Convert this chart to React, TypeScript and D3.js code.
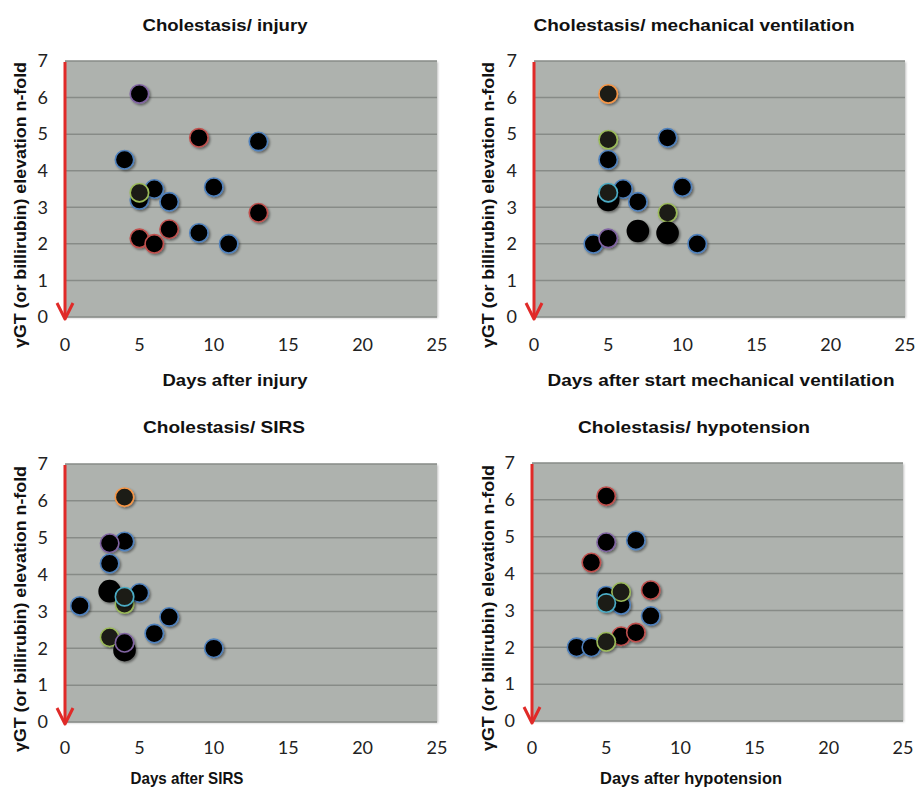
import React from 'react';
import * as d3 from 'd3';

type Pt = { day: number; value: number; ring: string };

// axis ticks
const xTicks = [0, 5, 10, 15, 20, 25];
const yTicks = [0, 1, 2, 3, 4, 5, 6, 7];

// points per panel, in drawing order (lower ones first)
const injuryPoints: Pt[] = [
  { day: 5, value: 6.1, ring: 'purple' },
  { day: 9, value: 4.9, ring: 'red' },
  { day: 13, value: 4.8, ring: 'blue' },
  { day: 4, value: 4.3, ring: 'blue' },
  { day: 5, value: 3.2, ring: 'blue' },
  { day: 6, value: 3.5, ring: 'blue' },
  { day: 5, value: 3.4, ring: 'green' },
  { day: 7, value: 3.15, ring: 'blue' },
  { day: 10, value: 3.55, ring: 'blue' },
  { day: 13, value: 2.85, ring: 'red' },
  { day: 5, value: 2.15, ring: 'red' },
  { day: 6, value: 2.0, ring: 'red' },
  { day: 7, value: 2.4, ring: 'red' },
  { day: 9, value: 2.3, ring: 'blue' },
  { day: 11, value: 2.0, ring: 'blue' },
];

const ventilationPoints: Pt[] = [
  { day: 5, value: 6.1, ring: 'orange' },
  { day: 5, value: 4.85, ring: 'green' },
  { day: 9, value: 4.9, ring: 'blue' },
  { day: 5, value: 4.3, ring: 'blue' },
  { day: 6, value: 3.5, ring: 'blue' },
  { day: 5, value: 3.2, ring: 'none' },
  { day: 5, value: 3.4, ring: 'cyan' },
  { day: 7, value: 3.15, ring: 'blue' },
  { day: 10, value: 3.55, ring: 'blue' },
  { day: 9, value: 2.85, ring: 'green' },
  { day: 7, value: 2.35, ring: 'none' },
  { day: 9, value: 2.3, ring: 'none' },
  { day: 4, value: 2.0, ring: 'blue' },
  { day: 5, value: 2.15, ring: 'purple' },
  { day: 11, value: 2.0, ring: 'blue' },
];

const sirsPoints: Pt[] = [
  { day: 4, value: 6.1, ring: 'orange' },
  { day: 4, value: 4.9, ring: 'blue' },
  { day: 3, value: 4.85, ring: 'purple' },
  { day: 3, value: 4.3, ring: 'blue' },
  { day: 3, value: 3.55, ring: 'none' },
  { day: 5, value: 3.5, ring: 'blue' },
  { day: 4, value: 3.2, ring: 'green' },
  { day: 4, value: 3.4, ring: 'cyan' },
  { day: 1, value: 3.15, ring: 'blue' },
  { day: 7, value: 2.85, ring: 'blue' },
  { day: 6, value: 2.4, ring: 'blue' },
  { day: 3, value: 2.3, ring: 'green' },
  { day: 4, value: 1.95, ring: 'none' },
  { day: 4, value: 2.15, ring: 'purple' },
  { day: 10, value: 2.0, ring: 'blue' },
];

const hypotensionPoints: Pt[] = [
  { day: 5, value: 6.1, ring: 'red' },
  { day: 5, value: 4.85, ring: 'purple' },
  { day: 7, value: 4.9, ring: 'blue' },
  { day: 4, value: 4.3, ring: 'red' },
  { day: 5, value: 3.4, ring: 'blue' },
  { day: 6, value: 3.15, ring: 'blue' },
  { day: 6, value: 3.5, ring: 'green' },
  { day: 5, value: 3.2, ring: 'cyan' },
  { day: 8, value: 3.55, ring: 'red' },
  { day: 8, value: 2.85, ring: 'blue' },
  { day: 3, value: 2.0, ring: 'blue' },
  { day: 4, value: 2.0, ring: 'blue' },
  { day: 6, value: 2.3, ring: 'red' },
  { day: 7, value: 2.4, ring: 'red' },
  { day: 5, value: 2.15, ring: 'green' },
];

const ringColor = d3
  .scaleOrdinal<string, string>()
  .domain(['blue', 'red', 'green', 'purple', 'cyan', 'orange', 'none'])
  .range(['#4f81bd', '#c0504d', '#9bbb59', '#8064a2', '#4bacc6', '#f79646', '#000000']);

const yLabel = 'γGT (or billirubin) elevation n-fold';

interface PanelProps {
  title: string;
  xLabel: string;
  points: Pt[];
  left: number;
  right: number;
  top: number;
  bottom: number;
  titleX: number;
  titleY: number;
  titleW: number;
  xLabelX: number;
  xLabelY: number;
  xLabelW: number;
  tickY: number;
  yLabelX: number;
}

function Panel(p: PanelProps) {
  const x = d3.scaleLinear().domain([0, 25]).range([p.left, p.right]);
  const y = d3.scaleLinear().domain([0, 7]).range([p.bottom, p.top]);
  const tickFont = "Lato, 'Open Sans', sans-serif";
  const boldFont = "'Liberation Sans', Arial, sans-serif";

  return (
    <g>
      <text x={p.titleX} y={p.titleY} dy="0.35em" textAnchor="middle" fontFamily={boldFont}
        fontWeight="bold" fontSize={17} fill="#111"
        textLength={p.titleW} lengthAdjust="spacingAndGlyphs">{p.title}</text>

      {/* plot background */}
      <rect x={p.left} y={p.top} width={p.right - p.left} height={p.bottom - p.top}
        fill="#aeb2ae" filter="url(#areaShadow)" />

      {yTicks.map(t => (
        <line key={t} x1={p.left} x2={p.right} y1={y(t)} y2={y(t)}
          stroke="#878b87" strokeWidth={1.5} />
      ))}

      {yTicks.map(t => (
        <text key={t} x={p.left - 17} y={y(t)} dy="0.35em" textAnchor="end"
          fontFamily={tickFont} fontSize={18} fill="#222">{t}</text>
      ))}
      {xTicks.map(t => (
        <text key={t} x={x(t)} y={p.tickY} dy="0.35em" textAnchor="middle"
          fontFamily={tickFont} fontSize={18} fill="#222">{t}</text>
      ))}

      {/* red downward arrow along the y axis */}
      <line x1={x(0)} x2={x(0)} y1={y(7) + 1} y2={y(0) + 1} stroke="#e02a28" strokeWidth={3} />
      <path d={`M${x(0) - 8},${y(0) - 14} L${x(0)},${y(0) + 2} L${x(0) + 8},${y(0) - 14}`}
        fill="none" stroke="#e02a28" strokeWidth={3} strokeLinejoin="round" />

      {p.points.map((d, i) => {
        const plain = d.ring === 'none';
        const dark = ['green', 'cyan', 'orange'].includes(d.ring);
        return (
          <circle key={i} cx={x(d.day)} cy={y(d.value)} r={plain ? 10.5 : 9.2}
            fill={dark ? '#1e1d16' : '#000'} stroke={ringColor(d.ring)}
            strokeWidth={1.6} filter="url(#dotShadow)" />
        );
      })}

      <text transform={`translate(${p.yLabelX},${(p.top + p.bottom) / 2 + 16}) rotate(-90)`}
        textAnchor="middle" dy="0.35em" fontFamily={boldFont} fontWeight="bold"
        fontSize={17} fill="#111" textLength={286} lengthAdjust="spacingAndGlyphs">{yLabel}</text>

      <text x={p.xLabelX} y={p.xLabelY} dy="0.35em" textAnchor="middle" fontFamily={boldFont}
        fontWeight="bold" fontSize={17} fill="#111"
        textLength={p.xLabelW} lengthAdjust="spacingAndGlyphs">{p.xLabel}</text>
    </g>
  );
}

export default function App() {
  return (
    <svg width={917} height={787} viewBox="0 0 917 787"
      style={{ position: 'absolute', left: 0, top: 0, background: '#fff', display: 'block' }}>
      <defs>
        <filter id="dotShadow" x="-50%" y="-50%" width="200%" height="200%">
          <feDropShadow dx="1.5" dy="1.5" stdDeviation="1.3" floodColor="#000" floodOpacity="0.45" />
        </filter>
        <filter id="areaShadow" x="-5%" y="-5%" width="110%" height="110%">
          <feDropShadow dx="1" dy="1" stdDeviation="1" floodColor="#000" floodOpacity="0.25" />
        </filter>
      </defs>
      <Panel title="Cholestasis/ injury" xLabel="Days after injury" points={injuryPoints}
        left={65} right={437} top={61} bottom={317}
        titleX={225} titleY={25} titleW={165}
        xLabelX={235} xLabelY={380} xLabelW={145} tickY={345} yLabelX={20} />
      <Panel title="Cholestasis/ mechanical ventilation" xLabel="Days after start mechanical ventilation"
        points={ventilationPoints}
        left={534} right={905} top={61} bottom={317}
        titleX={694} titleY={25} titleW={321}
        xLabelX={721} xLabelY={380} xLabelW={347} tickY={345} yLabelX={488} />
      <Panel title="Cholestasis/ SIRS" xLabel="Days after SIRS" points={sirsPoints}
        left={65} right={437} top={464} bottom={722}
        titleX={224} titleY={427} titleW={162}
        xLabelX={187} xLabelY={778} xLabelW={113} tickY={748} yLabelX={20} />
      <Panel title="Cholestasis/ hypotension" xLabel="Days after hypotension" points={hypotensionPoints}
        left={532} right={903} top={463} bottom={721}
        titleX={694} titleY={427} titleW={232}
        xLabelX={691} xLabelY={778} xLabelW={182} tickY={748} yLabelX={488} />
    </svg>
  );
}
